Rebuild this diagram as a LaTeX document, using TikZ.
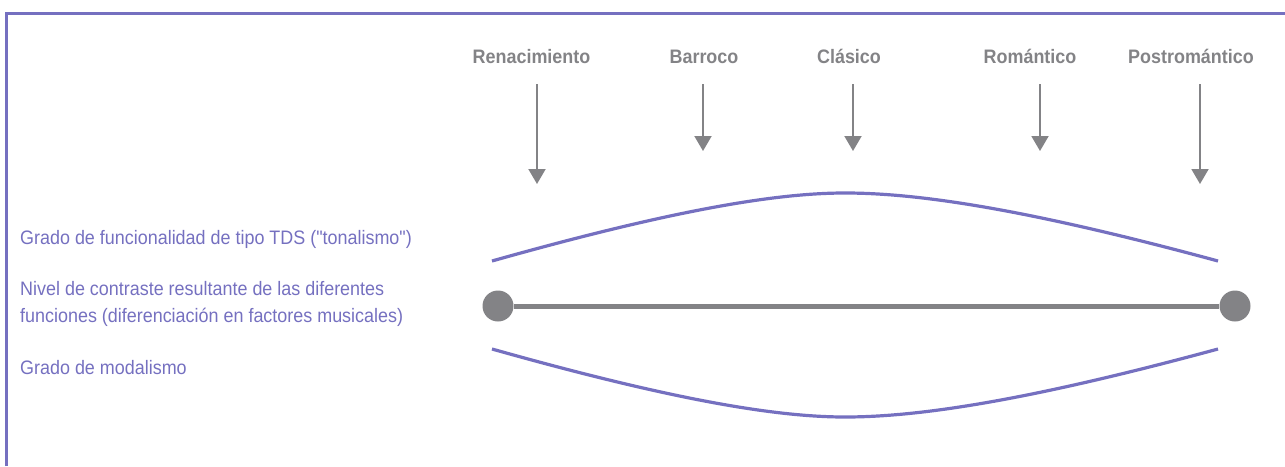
\documentclass[tikz,border=0pt]{standalone}
\usepackage{fontspec}
\setmainfont[FakeStretch=0.92,Ligatures=TeXOff]{Liberation Sans}
\usetikzlibrary{arrows.meta}
\definecolor{purp}{RGB}{117,112,192}
\definecolor{gry}{RGB}{131,131,134}
\tikzset{
  era/.style={font=\fontsize{19.5}{22}\selectfont\bfseries, text=gry, inner sep=0pt, anchor=base},
  lbl/.style={font=\fontsize{19.5}{26.5}\selectfont, text=purp, inner sep=0pt, anchor=base west, align=left},
  darr/.style={draw=gry, line width=2pt, -{Triangle[width=17pt,length=15pt]}},
  curve/.style={draw=purp, line width=3.2pt},
  dot/.style={circle, fill=gry, minimum size=31pt, inner sep=0pt},
  frame/.style={draw=purp, line width=3pt}
}
\begin{document}
\begin{tikzpicture}[x=1pt,y=-1pt]
\useasboundingbox (0,0) rectangle (1285,466);
% frame
\coordinate (fr1) at (6.5,466);
\coordinate (fr2) at (6.5,13.5);
\coordinate (fr3) at (1285,13.5);
\draw[frame] (fr1) -- (fr2) -- (fr3);
% eras
\node[era] (ren) at (531.5,63.5) {Renacimiento};
\node[era] (bar) at (704,63.5) {Barroco};
\node[era] (cla) at (849,63.5) {Clásico};
\node[era] (rom) at (1030,63.5) {Romántico};
\node[era] (pos) at (1191,63.5) {Postromántico};
% arrows
\coordinate (ren1) at (537,84); \coordinate (ren2) at (537,184);
\coordinate (bar1) at (703,84); \coordinate (bar2) at (703,151);
\coordinate (cla1) at (853,84); \coordinate (cla2) at (853,151);
\coordinate (rom1) at (1040,84); \coordinate (rom2) at (1040,151);
\coordinate (pos1) at (1200,84); \coordinate (pos2) at (1200,184);
\draw[darr] (ren1) -- (ren2);
\draw[darr] (bar1) -- (bar2);
\draw[darr] (cla1) -- (cla2);
\draw[darr] (rom1) -- (rom2);
\draw[darr] (pos1) -- (pos2);
% curves
\coordinate (t1) at (492,261); \coordinate (tm) at (845,193); \coordinate (t2) at (1218,261);
\draw[curve] (t1) .. controls (680,208) and (780,193) .. (tm) .. controls (920,193) and (1030,210) .. (t2);
\coordinate (b1) at (492,349); \coordinate (bm) at (845,417); \coordinate (b2) at (1218,349);
\draw[curve] (b1) .. controls (680,402) and (780,417) .. (bm) .. controls (920,417) and (1030,400) .. (b2);
% contrast line
\node[dot] (d1) at (498,306) {};
\node[dot] (d2) at (1235,306) {};
\draw[gry, line width=5pt] (d1) -- (d2);
% labels
\node[lbl] (l1) at (20,244) {Grado de funcionalidad de tipo TDS ("tonalismo")};
\node[lbl] (l2) at (20,322) {Nivel de contraste resultante de las diferentes\\funciones (diferenciación en factores musicales)};
\node[lbl] (l3) at (20,374) {Grado de modalismo};
\end{tikzpicture}
\end{document}
